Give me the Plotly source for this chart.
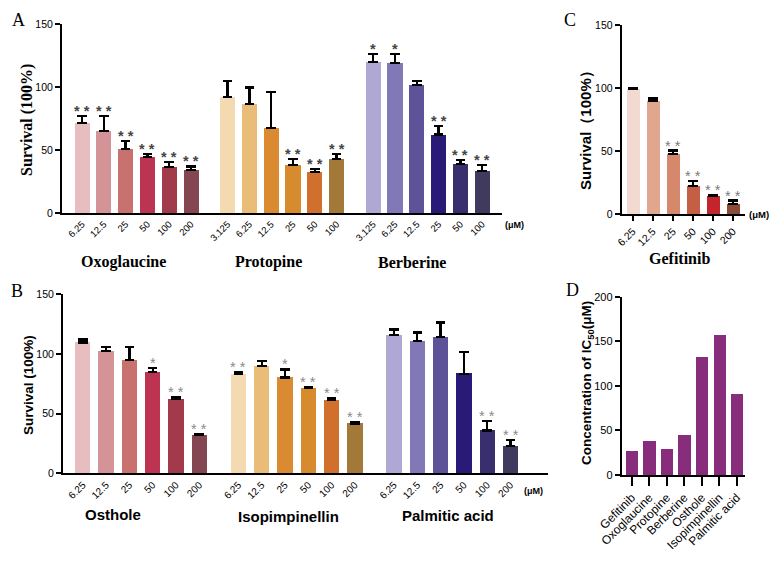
import plotly.graph_objects as go

# page body has an 8px margin: the figure is sized to fill the rest of the window
OFF = 8
W, H = 778 - OFF, 565 - OFF

# ---------------- data ----------------
oxo_conc = ["6.25", "12.5", "25", "50", "100", "200"]
oxo_val = [71.7, 65.0, 50.8, 44.2, 36.5, 33.9]
oxo_err = [5.5, 12.0, 6.6, 2.8, 4.2, 3.1]
oxo_sig = ["**", "**", "**", "**", "**", "**"]

proto_conc = ["3.125", "6.25", "12.5", "25", "50", "100"]
proto_val = [92.3, 86.5, 67.7, 38.0, 32.3, 42.6]
proto_err = [12.7, 13.0, 28.1, 5.0, 2.9, 4.0]
proto_sig = ["", "", "", "**", "**", "**"]

berb_conc = ["3.125", "6.25", "12.5", "25", "50", "100"]
berb_val = [120.0, 119.0, 101.8, 62.2, 38.9, 33.6]
berb_err = [6.0, 7.4, 3.0, 6.8, 3.1, 4.4]
berb_sig = ["*", "*", "", "**", "**", "**"]

ost_conc = ["6.25", "12.5", "25", "50", "100", "200"]
ost_val = [109.5, 102.2, 94.7, 84.6, 62.3, 32.1]
ost_err = [2.5, 3.8, 11.3, 3.7, 1.9, 1.1]
ost_sig = ["", "", "", "*", "**", "**"]

iso_conc = ["6.25", "12.5", "25", "50", "100", "200"]
iso_val = [83.2, 90.0, 80.2, 71.5, 61.2, 41.6]
iso_err = [1.8, 3.9, 6.8, 1.1, 1.9, 1.4]
iso_sig = ["**", "", "*", "**", "**", "**"]

palm_conc = ["6.25", "12.5", "25", "50", "100", "200"]
palm_val = [115.6, 110.9, 114.0, 83.5, 35.8, 22.6]
palm_err = [4.8, 7.0, 12.3, 18.2, 8.1, 5.3]
palm_sig = ["", "", "", "", "**", "**"]

gef_conc = ["6.25", "12.5", "25", "50", "100", "200"]
gef_val = [99.5, 89.6, 47.6, 22.6, 14.6, 8.2]
gef_err = [0.6, 2.2, 2.9, 3.6, 0.8, 2.7]
gef_sig = ["", "", "**", "**", "**", "**"]

ic50_names = ["Gefitinib", "Oxoglaucine", "Protopine", "Berberine",
              "Osthole", "Isopimpinellin", "Palmitic acid"]
ic50_val = [27.3, 38.1, 29.2, 45.2, 132.3, 157.0, 90.8]

# ---------------- styles ----------------
red_cols = ["#E8BDBF", "#D49397", "#C8716E", "#BD3453", "#A13A4B", "#844650"]
org_cols = ["#F3DAB0", "#E9BC78", "#DA8A30", "#D78B2F", "#D1702C", "#A3793A"]
pur_cols = ["#B0A8D4", "#8178B8", "#5E5399", "#2A1A78", "#3A2F6E", "#3F3A5E"]
gef_cols = ["#F2DAD0", "#E1A78E", "#D5886B", "#C45F45", "#C2252B", "#8A4C39"]
ic_col = "#872D7B"

SERIF = "Liberation Serif"
SANS = "Liberation Sans"

fig = go.Figure()
annots = []


def px_x(p):
    return (p - OFF) / W


def px_y(p):
    return 1 - (p - OFF) / H


def add_group(vals, errs, sigs, labels, cols, offset, xa, ya, width, sigcol,
              bold_sig=False):
    xs = [offset + i for i in range(len(vals))]
    fig.add_trace(go.Bar(
        x=xs, y=vals, width=width, marker=dict(color=cols, line=dict(width=0)),
        error_y=dict(type="data", symmetric=False, array=errs,
                     arrayminus=[0] * len(errs), color="black",
                     thickness=2.3, width=4.8),
        xaxis=xa, yaxis=ya, showlegend=False, hoverinfo="y"))
    for x, v, e, s in zip(xs, vals, errs, sigs):
        if s:
            txt = " ".join(s)
            if bold_sig:
                txt = f"<b>{txt}</b>"
            annots.append(dict(x=x, y=v + e, xref=xa, yref=ya, text=txt,
                               showarrow=False, yanchor="bottom", yshift=-5,
                               font=dict(family=SANS, size=14.5, color=sigcol)))
    return xs, labels


# ---------- panel A ----------
tv, tt = [], []
for k, (v, e, s, l, c) in enumerate([
        (oxo_val, oxo_err, oxo_sig, oxo_conc, red_cols),
        (proto_val, proto_err, proto_sig, proto_conc, org_cols),
        (berb_val, berb_err, berb_sig, berb_conc, pur_cols)]):
    xs, ls = add_group(v, e, s, l, c, k * 6.68, "x", "y", 0.69, "#454545",
                       bold_sig=True)
    tv += xs
    tt += ls

# ---------- panel B ----------
tv2, tt2 = [], []
for k, (v, e, s, l, c) in enumerate([
        (ost_val, ost_err, ost_sig, ost_conc, red_cols),
        (iso_val, iso_err, iso_sig, iso_conc, org_cols),
        (palm_val, palm_err, palm_sig, palm_conc, pur_cols)]):
    xs, ls = add_group(v, e, s, l, c, k * 6.68, "x2", "y2", 0.66, "#8a8a8a")
    tv2 += xs
    tt2 += ls

# ---------- panel C ----------
tv3, tt3 = add_group(gef_val, gef_err, gef_sig, gef_conc, gef_cols, 0,
                     "x3", "y3", 0.65, "#7a7a7a")

# ---------- panel D ----------
fig.add_trace(go.Bar(x=list(range(len(ic50_val))), y=ic50_val, width=0.69,
                     marker=dict(color=ic_col, line=dict(width=0)),
                     xaxis="x4", yaxis="y4", showlegend=False))

axis_common = dict(showline=True, linecolor="black", linewidth=2,
                   showgrid=False, zeroline=False, ticks="outside",
                   tickcolor="black", tickwidth=2, ticklen=5,
                   automargin=False)

fig.update_layout(
    width=W, height=H,
    margin=dict(l=0, r=0, t=0, b=0, pad=0, autoexpand=False),
    paper_bgcolor="white", plot_bgcolor="white", bargap=0,
    xaxis=dict(domain=[px_x(62), px_x(502)], range=[-0.92, 19.27],
               anchor="y", tickvals=tv, ticktext=tt, tickangle=-45,
               showline=True, linecolor="black", linewidth=2, showgrid=False,
               zeroline=False, ticks="", automargin=False,
               tickfont=dict(family=SANS, size=9.5, color="black")),
    yaxis=dict(domain=[px_y(213), px_y(24)], range=[0, 150], anchor="x",
               tickvals=[0, 50, 100, 150],
               tickfont=dict(family=SANS, size=10.5, color="black"),
               **axis_common),
    xaxis2=dict(domain=[px_x(63), px_x(548)], range=[-0.85, 19.97],
                anchor="y2", tickvals=tv2, ticktext=tt2, tickangle=-45,
                showline=True, linecolor="black", linewidth=2, showgrid=False,
                zeroline=False, ticks="", automargin=False,
                tickfont=dict(family=SANS, size=10, color="black")),
    yaxis2=dict(domain=[px_y(473.3), px_y(294.3)], range=[0, 150],
                anchor="x2", tickvals=[0, 50, 100, 150],
                tickfont=dict(family=SANS, size=10.5, color="black"),
                **axis_common),
    xaxis3=dict(domain=[px_x(621.7), px_x(745)], range=[-0.55, 5.6],
                anchor="y3", tickvals=tv3, ticktext=tt3, tickangle=-45,
                tickfont=dict(family=SANS, size=10.5, color="black"),
                **axis_common),
    yaxis3=dict(domain=[px_y(214.3), px_y(25)], range=[0, 150],
                anchor="x3", tickvals=[0, 50, 100, 150],
                tickfont=dict(family=SANS, size=10.5, color="black"),
                **axis_common),
    xaxis4=dict(domain=[px_x(621.7), px_x(745)], range=[-0.57, 6.47],
                anchor="y4", tickvals=list(range(len(ic50_names))),
                ticktext=ic50_names, tickangle=-45,
                tickfont=dict(family=SANS, size=12, color="black"),
                showline=True, linecolor="black", linewidth=2, showgrid=False,
                zeroline=False, ticks="outside", tickcolor="black",
                tickwidth=2, ticklen=9, automargin=False),
    yaxis4=dict(domain=[px_y(475), px_y(296.7)], range=[0, 200],
                anchor="x4", tickvals=[0, 50, 100, 150, 200],
                tickfont=dict(family=SANS, size=11, color="black"),
                **axis_common),
)


def lab(x, y, text, family, size, bold=True, angle=0, color="black",
        yanchor="middle"):
    t = f"<b>{text}</b>" if bold else text
    annots.append(dict(x=px_x(x), y=px_y(y), xref="paper", yref="paper",
                       text=t, showarrow=False, textangle=angle,
                       xanchor="center", yanchor=yanchor,
                       font=dict(family=family, size=size, color=color)))


# panel letters
lab(18, 8, "A", SERIF, 18, bold=False, yanchor="top")
lab(17, 291, "B", SERIF, 18, bold=False)
lab(570, 8, "C", SERIF, 18, bold=False, yanchor="top")
lab(572, 290, "D", SERIF, 18, bold=False)

# y titles
lab(27, 120, "Survival (100%)", SERIF, 16, angle=-90)
lab(28, 385, "Survival (100%)", SANS, 13.5, angle=-90)
lab(585, 127, "Survival（100%）", SANS, 15, angle=-90)
lab(587, 383, "Concentration of IC<sub>50</sub>(μM)", SANS, 13.5, angle=-90)

# group names
lab(123, 262, "Oxoglaucine", SERIF, 16)
lab(268, 262, "Protopine", SERIF, 16)
lab(412, 262, "Berberine", SERIF, 16)
lab(113.5, 514, "Osthole", SANS, 15)
lab(288.5, 516, "Isopimpinellin", SANS, 15)
lab(447.5, 515, "Palmitic acid", SANS, 15)
lab(679, 258, "Gefitinib", SERIF, 16)

# unit labels
lab(514, 225, "(μM)", SANS, 9)
lab(533, 491, "(μM)", SANS, 9)
lab(759, 214, "(μM)", SANS, 9.5)

fig.update_layout(annotations=annots)
fig.write_html("out.html", config={"responsive": False})
